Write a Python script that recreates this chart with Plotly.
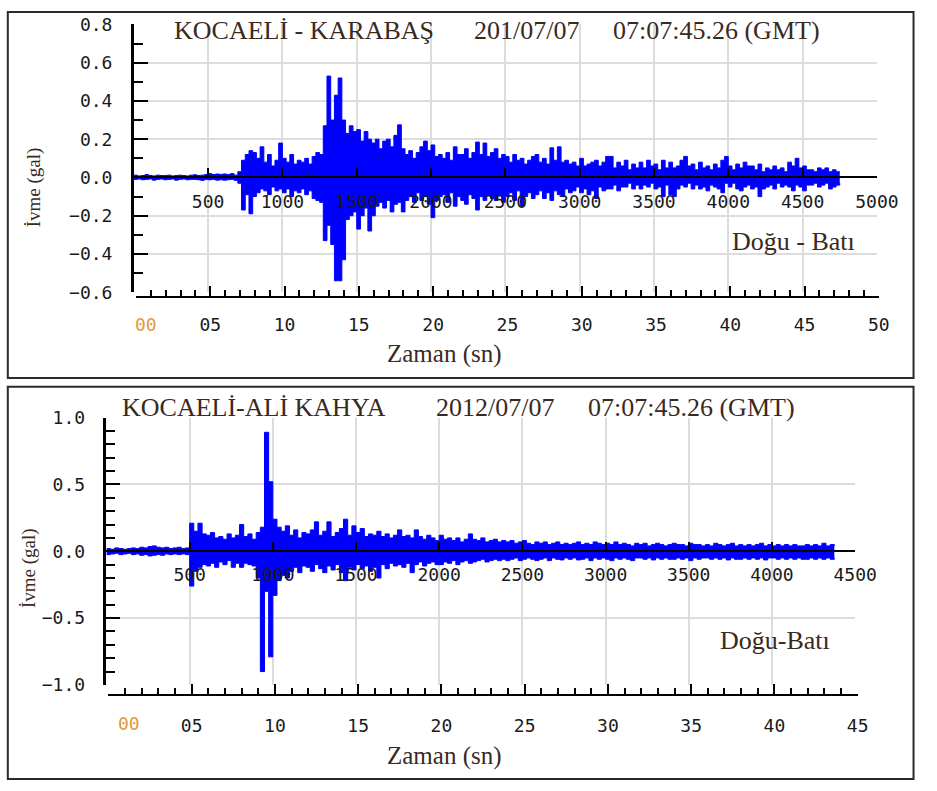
import plotly.graph_objects as go

W, H = 937, 791

# ---------------- DATA ----------------
# Readings every 25 samples: upper and lower envelope of the ivme (gal) trace
step = 25

# KOCAELİ - KARABAŞ (Doğu - Batı), samples 0 .. 4750
karabas_upper = [
    0.012, 0.008, 0.010, 0.015, 0.010, 0.008, 0.012, 0.010,
    0.010, 0.012, 0.008, 0.010, 0.012, 0.010, 0.008, 0.012,
    0.014, 0.010, 0.012, 0.015, 0.020, 0.015, 0.018, 0.016,
    0.018, 0.015, 0.020, 0.012, 0.030, 0.090, 0.120, 0.140,
    0.130, 0.100, 0.160, 0.080, 0.120, 0.060, 0.090, 0.180,
    0.100, 0.080, 0.120, 0.070, 0.090, 0.080, 0.100, 0.070,
    0.110, 0.130, 0.120, 0.270, 0.530, 0.300, 0.430, 0.520,
    0.300, 0.230, 0.270, 0.240, 0.250, 0.190, 0.240, 0.200,
    0.180, 0.200, 0.150, 0.190, 0.200, 0.160, 0.220, 0.275,
    0.150, 0.120, 0.140, 0.100, 0.130, 0.160, 0.190, 0.140,
    0.170, 0.110, 0.120, 0.100, 0.130, 0.090, 0.160, 0.120,
    0.120, 0.150, 0.100, 0.130, 0.185, 0.120, 0.180, 0.110,
    0.130, 0.150, 0.100, 0.120, 0.110, 0.080, 0.120, 0.090,
    0.100, 0.070, 0.090, 0.110, 0.120, 0.080, 0.100, 0.070,
    0.155, 0.090, 0.160, 0.080, 0.090, 0.070, 0.080, 0.060,
    0.100, 0.060, 0.070, 0.080, 0.090, 0.060, 0.080, 0.110,
    0.110, 0.050, 0.080, 0.060, 0.090, 0.040, 0.070, 0.050,
    0.080, 0.050, 0.090, 0.060, 0.070, 0.040, 0.090, 0.050,
    0.080, 0.050, 0.060, 0.090, 0.110, 0.060, 0.070, 0.040,
    0.080, 0.050, 0.060, 0.040, 0.070, 0.050, 0.090, 0.110,
    0.060, 0.040, 0.070, 0.050, 0.080, 0.060, 0.060, 0.040,
    0.070, 0.030, 0.050, 0.040, 0.060, 0.040, 0.050, 0.030,
    0.080, 0.060, 0.100, 0.050, 0.060, 0.040, 0.040, 0.030,
    0.050, 0.040, 0.050, 0.030, 0.040, 0.030, 0.030,
]
karabas_lower = [
    -0.010, -0.008, -0.012, -0.010, -0.008, -0.014, -0.010, -0.008,
    -0.012, -0.010, -0.008, -0.014, -0.010, -0.008, -0.012, -0.010,
    -0.010, -0.012, -0.015, -0.010, -0.012, -0.010, -0.014, -0.012,
    -0.014, -0.012, -0.010, -0.015, -0.030, -0.170, -0.090, -0.190,
    -0.100, -0.080, -0.060, -0.070, -0.090, -0.050, -0.070, -0.060,
    -0.080, -0.060, -0.100, -0.070, -0.080, -0.060, -0.090, -0.070,
    -0.110, -0.120, -0.130, -0.330, -0.250, -0.350, -0.540, -0.540,
    -0.430, -0.220, -0.200, -0.180, -0.270, -0.200, -0.160, -0.280,
    -0.200, -0.150, -0.130, -0.160, -0.120, -0.180, -0.140, -0.130,
    -0.180, -0.120, -0.100, -0.130, -0.080, -0.120, -0.100, -0.140,
    -0.210, -0.120, -0.100, -0.090, -0.130, -0.080, -0.150, -0.100,
    -0.120, -0.140, -0.090, -0.110, -0.170, -0.100, -0.120, -0.090,
    -0.110, -0.120, -0.090, -0.130, -0.100, -0.080, -0.120, -0.070,
    -0.150, -0.100, -0.080, -0.110, -0.090, -0.070, -0.110, -0.080,
    -0.120, -0.070, -0.090, -0.100, -0.060, -0.080, -0.070, -0.050,
    -0.080, -0.060, -0.090, -0.070, -0.110, -0.050, -0.070, -0.060,
    -0.060, -0.040, -0.070, -0.050, -0.050, -0.030, -0.060, -0.040,
    -0.060, -0.040, -0.050, -0.030, -0.060, -0.050, -0.100, -0.040,
    -0.090, -0.100, -0.060, -0.040, -0.050, -0.030, -0.060, -0.040,
    -0.060, -0.050, -0.070, -0.040, -0.050, -0.060, -0.080, -0.030,
    -0.050, -0.030, -0.060, -0.070, -0.050, -0.040, -0.060, -0.050,
    -0.100, -0.060, -0.050, -0.040, -0.060, -0.030, -0.050, -0.040,
    -0.050, -0.070, -0.040, -0.050, -0.070, -0.040, -0.040, -0.030,
    -0.050, -0.040, -0.030, -0.060, -0.050, -0.040, -0.030,
]

# KOCAELİ-ALİ KAHYA (Doğu-Batı), samples 0 .. 4375
alikahya_upper = [
    0.020, 0.015, 0.025, 0.020, 0.015, 0.020, 0.025, 0.020,
    0.030, 0.025, 0.035, 0.040, 0.030, 0.025, 0.030, 0.020,
    0.025, 0.030, 0.020, 0.025, 0.210, 0.150, 0.210, 0.130,
    0.120, 0.140, 0.100, 0.110, 0.090, 0.130, 0.100, 0.120,
    0.200, 0.110, 0.130, 0.090, 0.140, 0.180, 0.890, 0.520,
    0.240, 0.180, 0.150, 0.190, 0.120, 0.160, 0.100, 0.140,
    0.130, 0.160, 0.220, 0.120, 0.150, 0.220, 0.110, 0.140,
    0.170, 0.240, 0.120, 0.190, 0.140, 0.170, 0.110, 0.130,
    0.120, 0.150, 0.110, 0.130, 0.100, 0.120, 0.160, 0.110,
    0.120, 0.100, 0.160, 0.110, 0.090, 0.120, 0.100, 0.080,
    0.120, 0.090, 0.100, 0.080, 0.100, 0.070, 0.090, 0.130,
    0.090, 0.080, 0.100, 0.070, 0.080, 0.090, 0.070, 0.080,
    0.070, 0.080, 0.060, 0.070, 0.080, 0.060, 0.050, 0.070,
    0.060, 0.070, 0.050, 0.060, 0.070, 0.050, 0.060, 0.050,
    0.060, 0.070, 0.050, 0.060, 0.050, 0.070, 0.060, 0.050,
    0.060, 0.050, 0.070, 0.050, 0.060, 0.050, 0.040, 0.060,
    0.050, 0.060, 0.040, 0.050, 0.060, 0.050, 0.040, 0.050,
    0.060, 0.050, 0.050, 0.040, 0.060, 0.050, 0.050, 0.040,
    0.050, 0.040, 0.060, 0.050, 0.040, 0.050, 0.060, 0.040,
    0.050, 0.040, 0.050, 0.040, 0.050, 0.060, 0.040, 0.050,
    0.040, 0.050, 0.040, 0.050, 0.040, 0.050, 0.040, 0.040,
    0.050, 0.040, 0.050, 0.040, 0.060, 0.040, 0.050, 0.040,
]
alikahya_lower = [
    -0.025, -0.020, -0.015, -0.025, -0.020, -0.015, -0.025, -0.020,
    -0.030, -0.025, -0.035, -0.030, -0.025, -0.030, -0.020, -0.025,
    -0.020, -0.025, -0.020, -0.025, -0.260, -0.150, -0.120, -0.100,
    -0.110, -0.090, -0.120, -0.080, -0.100, -0.070, -0.120, -0.090,
    -0.120, -0.090, -0.100, -0.110, -0.200, -0.900, -0.300, -0.790,
    -0.330, -0.220, -0.180, -0.200, -0.150, -0.120, -0.160, -0.110,
    -0.120, -0.150, -0.100, -0.130, -0.160, -0.110, -0.140, -0.100,
    -0.160, -0.220, -0.120, -0.140, -0.100, -0.130, -0.110, -0.150,
    -0.120, -0.200, -0.100, -0.130, -0.090, -0.110, -0.100, -0.120,
    -0.090, -0.160, -0.100, -0.080, -0.110, -0.090, -0.080, -0.100,
    -0.100, -0.080, -0.090, -0.070, -0.100, -0.080, -0.070, -0.090,
    -0.080, -0.070, -0.060, -0.080, -0.070, -0.060, -0.070, -0.060,
    -0.070, -0.060, -0.050, -0.070, -0.060, -0.050, -0.060, -0.070,
    -0.060, -0.050, -0.070, -0.050, -0.060, -0.065, -0.050, -0.060,
    -0.050, -0.065, -0.060, -0.050, -0.070, -0.050, -0.060, -0.050,
    -0.060, -0.070, -0.050, -0.060, -0.050, -0.060, -0.070, -0.050,
    -0.050, -0.060, -0.050, -0.065, -0.050, -0.060, -0.050, -0.060,
    -0.060, -0.050, -0.060, -0.050, -0.070, -0.050, -0.060, -0.050,
    -0.050, -0.060, -0.050, -0.060, -0.050, -0.065, -0.050, -0.060,
    -0.060, -0.050, -0.060, -0.050, -0.060, -0.050, -0.065, -0.050,
    -0.050, -0.060, -0.050, -0.060, -0.050, -0.060, -0.050, -0.060,
    -0.060, -0.050, -0.060, -0.050, -0.060, -0.050, -0.060, -0.050,
]

karabas_samples = [i * step for i in range(len(karabas_upper))]
alikahya_samples = [i * step for i in range(len(alikahya_upper))]

# Tick labels
top_y_ticks = [-0.6, -0.4, -0.2, 0.0, 0.2, 0.4, 0.6, 0.8]
top_y_labels = ["\u22120.6", "\u22120.4", "\u22120.2", "0.0", "0.2", "0.4", "0.6", "0.8"]
top_y_minor = [-0.5, -0.3, -0.1, 0.1, 0.3, 0.5, 0.7]
top_sample_ticks = [500, 1000, 1500, 2000, 2500, 3000, 3500, 4000, 4500, 5000]
top_time_ticks = [0, 5, 10, 15, 20, 25, 30, 35, 40, 45, 50]
top_time_labels = ["", "05", "10", "15", "20", "25", "30", "35", "40", "45", "50"]
top_time_minor = list(range(0, 51))

bot_y_ticks = [-1.0, -0.5, 0.0, 0.5, 1.0]
bot_y_labels = ["\u22121.0", "\u22120.5", "0.0", "0.5", "1.0"]
bot_y_minor = [-0.9, -0.8, -0.7, -0.6, -0.4, -0.3, -0.2, -0.1,
               0.1, 0.2, 0.3, 0.4, 0.6, 0.7, 0.8, 0.9]
bot_sample_ticks = [500, 1000, 1500, 2000, 2500, 3000, 3500, 4000, 4500]
bot_time_ticks = [0, 5, 10, 15, 20, 25, 30, 35, 40, 45]
bot_time_labels = ["", "05", "10", "15", "20", "25", "30", "35", "40", "45"]
bot_time_minor = list(range(0, 46))

top_title_parts = ["KOCAELİ - KARABAŞ", "201/07/07", "07:07:45.26 (GMT)"]
bot_title_parts = ["KOCAELİ-ALİ KAHYA", "2012/07/07", "07:07:45.26 (GMT)"]
top_component = "Doğu - Batı"
bot_component = "Doğu-Batı"
y_title = "İvme (gal)"
x_title = "Zaman (sn)"

# ---------------- STYLE ----------------
def px(x):
    return x / W

def py(y):
    return 1 - y / H

MONO = "DejaVu Sans Mono"
SERIF = "Liberation Serif"
TXT = "#3a2a1e"
ORANGE = "#e3983a"
GRID = "#dcdcdc"
BLUE = "#0000ff"
TICKFONT = dict(family=MONO, size=18, color="#1a1a1a")

fig = go.Figure()

def band(samples, lower, upper, xa, ya):
    fig.add_trace(go.Scatter(x=samples, y=lower, mode="lines",
                             line=dict(color=BLUE, width=1, shape="hv"),
                             xaxis=xa, yaxis=ya, hoverinfo="skip", showlegend=False))
    fig.add_trace(go.Scatter(x=samples, y=upper, mode="lines",
                             line=dict(color=BLUE, width=1, shape="hv"),
                             fill="tonexty", fillcolor=BLUE,
                             xaxis=xa, yaxis=ya, hoverinfo="skip", showlegend=False))

band(karabas_samples, karabas_lower, karabas_upper, "x", "y")
band(alikahya_samples, alikahya_lower, alikahya_upper, "x2", "y2")

# carriers for the time axes
fig.add_trace(go.Scatter(x=[top_time_ticks[0], top_time_ticks[-1]], y=[0, 0], mode="markers",
                         marker=dict(opacity=0), xaxis="x3", yaxis="y3",
                         hoverinfo="skip", showlegend=False))
fig.add_trace(go.Scatter(x=[bot_time_ticks[0], bot_time_ticks[-1]], y=[0, 0], mode="markers",
                         marker=dict(opacity=0), xaxis="x4", yaxis="y4",
                         hoverinfo="skip", showlegend=False))

def sample_axis(domain, rng, ticks, pos):
    return dict(domain=domain, range=rng, anchor="free", position=pos,
                tickmode="array", tickvals=ticks, ticktext=[str(t) for t in ticks],
                ticks="inside", ticklen=8, tickwidth=2, tickcolor="black",
                showline=True, linecolor="black", linewidth=2,
                showgrid=True, gridcolor=GRID, gridwidth=2,
                zeroline=False, tickfont=TICKFONT, ticklabelstandoff=8,
                layer="above traces", fixedrange=True)

def value_axis(domain, rng, ticks, labels, minor, anchor):
    return dict(domain=domain, range=rng, anchor=anchor,
                tickmode="array", tickvals=ticks, ticktext=labels,
                ticks="inside", ticklen=14, tickwidth=2, tickcolor="black",
                minor=dict(tickmode="array", tickvals=minor, ticks="inside",
                           ticklen=9, tickwidth=2, tickcolor="black", showgrid=False),
                showline=True, linecolor="black", linewidth=2.5,
                showgrid=True, gridcolor=GRID, gridwidth=2,
                zeroline=False, tickfont=TICKFONT, ticklabelstandoff=15,
                layer="above traces", fixedrange=True)

def time_axis(domain, rng, ticks, labels, minor, anchor, standoff):
    return dict(domain=domain, range=rng, anchor=anchor,
                tickmode="array", tickvals=ticks, ticktext=labels,
                ticks="inside", ticklen=10, tickwidth=2, tickcolor="black",
                minor=dict(tickmode="array", tickvals=minor, ticks="inside",
                           ticklen=6, tickwidth=2, tickcolor="black", showgrid=False),
                showline=True, linecolor="black", linewidth=2,
                showgrid=False, zeroline=False, tickfont=TICKFONT,
                ticklabelstandoff=standoff, fixedrange=True)

def dummy_axis(domain, anchor):
    return dict(domain=domain, range=[0, 1], anchor=anchor, visible=False,
                showgrid=False, zeroline=False, fixedrange=True)

fig.update_layout(
    width=W, height=H,
    margin=dict(l=0, r=0, t=0, b=0),
    paper_bgcolor="white", plot_bgcolor="white",
    showlegend=False,
    xaxis=sample_axis([px(137), px(898)], [0, 5000], top_sample_ticks, py(171)),
    yaxis=value_axis([py(288.9), py(13.8)], [-0.6, 0.8], top_y_ticks, top_y_labels,
                     top_y_minor, "x"),
    xaxis2=sample_axis([px(109), px(875.7)], [0, 4500], bot_sample_ticks, py(554.3)),
    yaxis2=value_axis([py(692.3), py(417.7)], [-1.0, 1.0], bot_y_ticks, bot_y_labels,
                      bot_y_minor, "x2"),
    xaxis3=time_axis([px(139.3), px(900)], [0, 50], top_time_ticks, top_time_labels,
                     top_time_minor, "y3", 11),
    yaxis3=dummy_axis([py(293), py(290)], "x3"),
    xaxis4=time_axis([px(111), px(878.3)], [0, 45], bot_time_ticks, bot_time_labels,
                     bot_time_minor, "y4", 14),
    yaxis4=dummy_axis([py(702), py(699)], "x4"),
)

# frames around the two panels
fig.add_shape(type="rect", xref="paper", yref="paper",
              x0=px(8), x1=px(935.5), y0=py(377), y1=py(1),
              line=dict(color="#2a2a2a", width=2), layer="above")
fig.add_shape(type="rect", xref="paper", yref="paper",
              x0=px(8), x1=px(935.5), y0=py(789), y1=py(386),
              line=dict(color="#2a2a2a", width=2), layer="above")

ann = []
def text(x, y, s, size, color=TXT, family=SERIF, xanchor="center", angle=0):
    ann.append(dict(x=px(x), y=py(y), xref="paper", yref="paper", text=s,
                    showarrow=False, xanchor=xanchor, yanchor="middle",
                    textangle=angle, font=dict(family=family, size=size, color=color)))

# titles
text(311, 20, top_title_parts[0], 26)
text(539, 20, top_title_parts[1], 26)
text(734, 20, top_title_parts[2], 26)
text(260, 407, bot_title_parts[0], 26)
text(507, 407, bot_title_parts[1], 26)
text(708, 407, bot_title_parts[2], 26)
# axis titles
text(35, 181, y_title, 19, angle=-90)
text(30, 572, y_title, 19, angle=-90)
text(455, 352, x_title, 25)
text(455, 765, x_title, 25)
# component labels
text(813, 237, top_component, 26)
text(794, 647, bot_component, 26)
# orange zero labels of the time axes
text(150, 322, "00", 18, color=ORANGE, family=MONO)
text(132, 732, "00", 18, color=ORANGE, family=MONO)

fig.update_layout(annotations=ann)

fig.write_html("out.html", config={"displayModeBar": False})
